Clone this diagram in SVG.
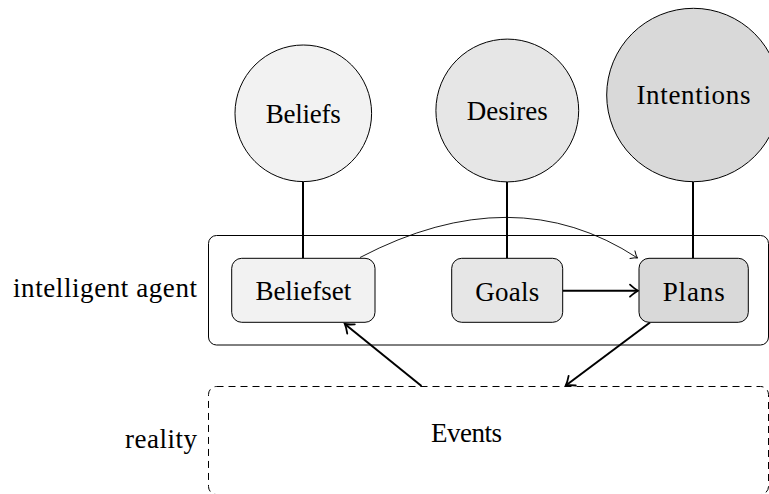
<svg xmlns="http://www.w3.org/2000/svg" width="769" height="494" viewBox="0 0 769 494">
<style>
text{font-family:"Liberation Serif","DejaVu Serif",serif;font-size:27px;fill:#000}
.c{text-anchor:middle}
.e{text-anchor:end}
.n{stroke:#000;stroke-width:1}
.l1{fill:#f2f2f2}
.l2{fill:#e6e6e6}
.l3{fill:#d9d9d9}
.stem{stroke:#000;stroke-width:2;fill:none}
.thick{stroke:#000;stroke-width:2;fill:none}
.thin{stroke:#000;stroke-width:0.9;fill:none}
</style>
<defs>
<marker id="ah" markerUnits="userSpaceOnUse" orient="auto" refX="0" refY="0" overflow="visible">
<path d="M -8 -6 Q -3 -1.5 0 0 Q -3 1.5 -8 6" fill="none" stroke="#000" stroke-width="1.8" stroke-linecap="round"/>
</marker>
<marker id="ahs" markerUnits="userSpaceOnUse" orient="auto" refX="0" refY="0" overflow="visible">
<path d="M -6 -4.5 Q -2.5 -1 0 0 Q -2.5 1 -6 4.5" fill="none" stroke="#000" stroke-width="0.9" stroke-linecap="round"/>
</marker>
</defs>
<g id="labels">
<text class="e" x="197" y="297" textLength="184" lengthAdjust="spacing">intelligent agent</text>
<text class="e" x="197" y="448" textLength="72" lengthAdjust="spacing">reality</text>
</g>
<g id="agent">
<rect x="208.5" y="235.5" width="560" height="109.5" rx="8" fill="none" stroke="#000" stroke-width="1"/>
</g>
<g id="reality">
<rect x="208.5" y="386.5" width="560" height="108" rx="8" fill="none" stroke="#000" stroke-width="1" stroke-dasharray="7 5"/>
<text class="c" x="466.5" y="442" textLength="71" lengthAdjust="spacing">Events</text>
</g>
<g id="connectors">
<line class="stem" x1="303" y1="181.5" x2="303" y2="258.3"/>
<line class="stem" x1="507" y1="182" x2="507" y2="258.3"/>
<line class="stem" x1="693" y1="182" x2="693" y2="258.3"/>
<path class="thin" d="M 360 257.5 Q 514 177 637.5 258" marker-end="url(#ahs)"/>
<line class="thick" x1="562.7" y1="290.7" x2="638" y2="290.7" marker-end="url(#ah)"/>
<line class="thick" x1="421.5" y1="386" x2="344.8" y2="324" marker-end="url(#ah)"/>
<line class="thick" x1="650" y1="322.5" x2="565.8" y2="385.5" marker-end="url(#ah)"/>
</g>
<g id="beliefs">
<circle class="n l1" cx="303.3" cy="113.3" r="68.3"/>
<text class="c" x="303.3" y="122.7" textLength="75" lengthAdjust="spacing">Beliefs</text>
</g>
<g id="desires">
<circle class="n l2" cx="507.3" cy="110.5" r="71.4"/>
<text class="c" x="507.3" y="120" textLength="81" lengthAdjust="spacing">Desires</text>
</g>
<g id="intentions">
<circle class="n l3" cx="693.4" cy="95" r="86.7"/>
<text class="c" x="693.4" y="103.5" textLength="114" lengthAdjust="spacing">Intentions</text>
</g>
<g id="beliefset">
<rect class="n l1" x="231.7" y="258.3" width="143.3" height="64" rx="10"/>
<text class="c" x="303.3" y="300" textLength="95.7" lengthAdjust="spacing">Beliefset</text>
</g>
<g id="goals">
<rect class="n l2" x="451.7" y="258.3" width="111" height="64" rx="10"/>
<text class="c" x="507.2" y="300.5" textLength="64" lengthAdjust="spacing">Goals</text>
</g>
<g id="plans">
<rect class="n l3" x="639" y="258.3" width="109.3" height="64" rx="10"/>
<text class="c" x="693.7" y="300.5" textLength="62" lengthAdjust="spacing">Plans</text>
</g>
</svg>
